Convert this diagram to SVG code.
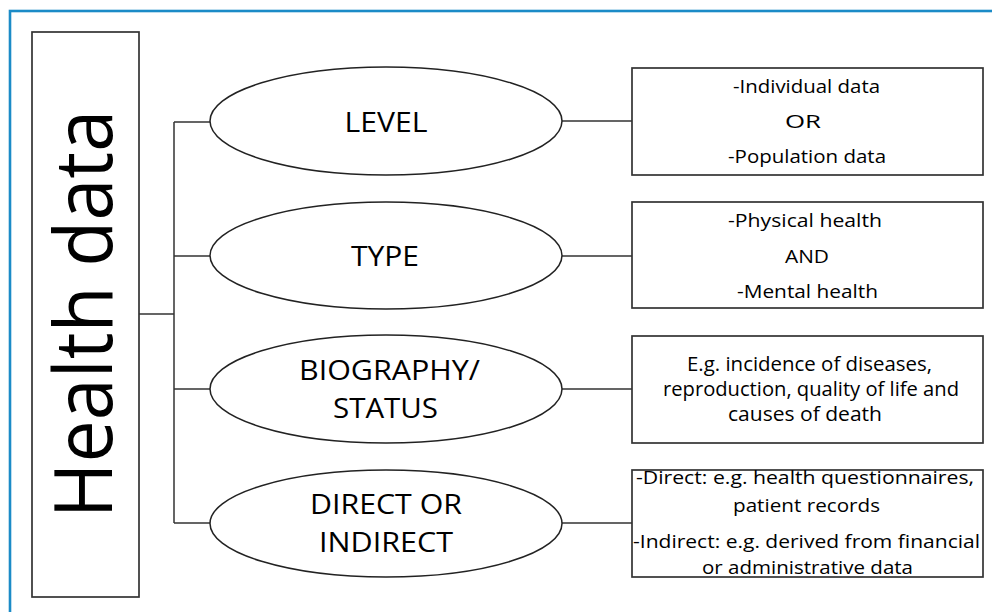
<svg xmlns="http://www.w3.org/2000/svg" width="992" height="612" viewBox="0 0 992 612">
<style>
.frame{fill:none;stroke:#1b8bc7;stroke-width:2.6}
.box{fill:#fff;stroke:#333;stroke-width:1.7}
.ell{fill:#fff;stroke:#222;stroke-width:1.5}
.con{fill:none;stroke:#333;stroke-width:1.5}
text{font-family:"Open Sans","Noto Sans","Liberation Sans",sans-serif;fill:#000;text-anchor:middle}
.et{font-size:28px}
.bt{font-size:19px}
.bt3{font-size:19.5px}
</style>
<rect width="992" height="612" fill="#fff"/>
<rect class="frame" x="10" y="11" width="1000" height="620"/>
<g id="root">
<rect class="box" x="32" y="32" width="107" height="565"/>
<text transform="translate(112,314) rotate(-90)" style="font-size:80px" textLength="408" lengthAdjust="spacingAndGlyphs">Health data</text>
</g>
<g id="connectors">
<path class="con" d="M139 314H174M174 122V523M174 122H210M174 256H210M174 389H210M174 523H210"/>
<path class="con" d="M562 121H632M562 256H632M562 389H632M562 523H632"/>
</g>
<g id="level">
<ellipse class="ell" cx="386" cy="121" rx="176" ry="54"/>
<text class="et" x="386" y="132" textLength="83" lengthAdjust="spacingAndGlyphs">LEVEL</text>
</g>
<g id="type">
<ellipse class="ell" cx="386" cy="255.5" rx="176" ry="53.5"/>
<text class="et" x="385" y="266" textLength="68" lengthAdjust="spacingAndGlyphs">TYPE</text>
</g>
<g id="biography">
<ellipse class="ell" cx="386" cy="389" rx="176" ry="54"/>
<text class="et" x="389.5" y="380" textLength="181" lengthAdjust="spacingAndGlyphs">BIOGRAPHY/</text>
<text class="et" x="385.5" y="418" textLength="105" lengthAdjust="spacingAndGlyphs">STATUS</text>
</g>
<g id="direct">
<ellipse class="ell" cx="386" cy="523.5" rx="176" ry="53.5"/>
<text class="et" x="386" y="514" textLength="152" lengthAdjust="spacingAndGlyphs">DIRECT OR</text>
<text class="et" x="386" y="552" textLength="134" lengthAdjust="spacingAndGlyphs">INDIRECT</text>
</g>
<g id="level-detail">
<rect class="box" x="632" y="68" width="351" height="107"/>
<text class="bt" x="806.5" y="93" textLength="147" lengthAdjust="spacingAndGlyphs">-Individual data</text>
<text class="bt" x="803" y="128" textLength="36" lengthAdjust="spacingAndGlyphs">OR</text>
<text class="bt" x="807" y="163" textLength="158" lengthAdjust="spacingAndGlyphs">-Population data</text>
</g>
<g id="type-detail">
<rect class="box" x="632" y="202" width="351" height="106"/>
<text class="bt" x="805" y="227" textLength="154" lengthAdjust="spacingAndGlyphs">-Physical health</text>
<text class="bt" x="807" y="263" textLength="44" lengthAdjust="spacingAndGlyphs">AND</text>
<text class="bt" x="807.5" y="298" textLength="141" lengthAdjust="spacingAndGlyphs">-Mental health</text>
</g>
<g id="biography-detail">
<rect class="box" x="632" y="336" width="351" height="107"/>
<text class="bt3" x="809.5" y="371" textLength="245" lengthAdjust="spacingAndGlyphs">E.g. incidence of diseases,</text>
<text class="bt3" x="811" y="396" textLength="296" lengthAdjust="spacingAndGlyphs">reproduction, quality of life and</text>
<text class="bt3" x="805" y="421" textLength="154" lengthAdjust="spacingAndGlyphs">causes of death</text>
</g>
<g id="direct-detail">
<rect class="box" x="632" y="470" width="351" height="107"/>
<text class="bt" x="805" y="484" textLength="338" lengthAdjust="spacingAndGlyphs">-Direct: e.g. health questionnaires,</text>
<text class="bt" x="806.5" y="512" textLength="147" lengthAdjust="spacingAndGlyphs">patient records</text>
<text class="bt" x="806.5" y="548" textLength="347" lengthAdjust="spacingAndGlyphs">-Indirect: e.g. derived from financial</text>
<text class="bt" x="807.5" y="574" textLength="211" lengthAdjust="spacingAndGlyphs">or administrative data</text>
</g>
</svg>
